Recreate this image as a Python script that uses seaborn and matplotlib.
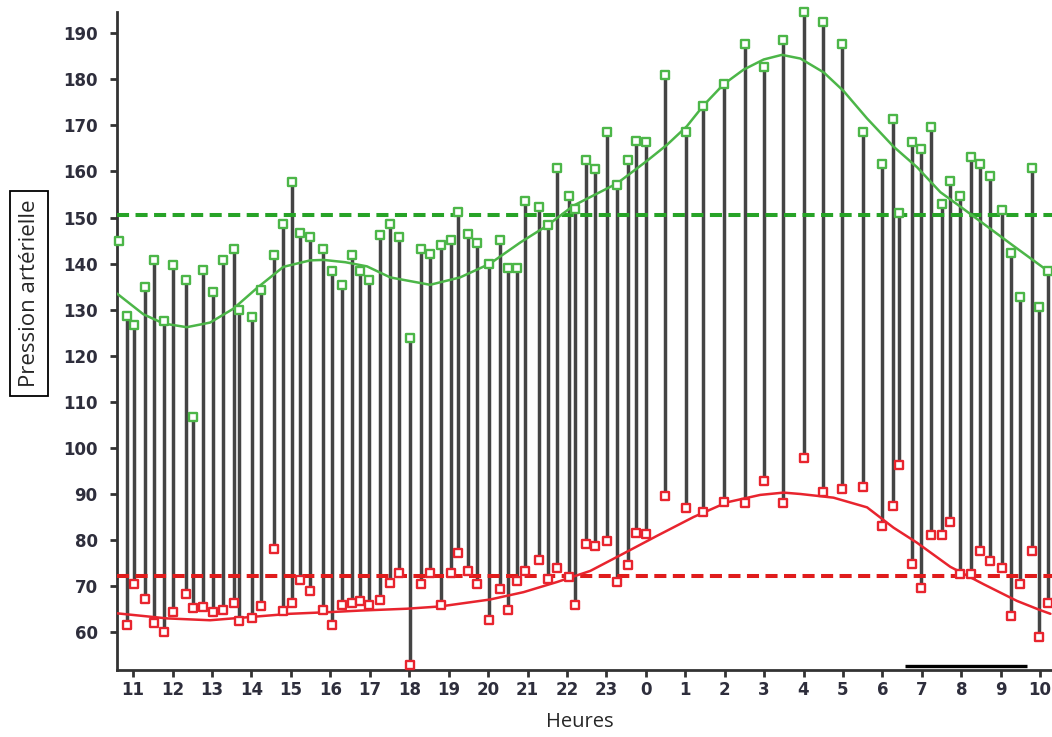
import numpy as np
import pandas as pd
import seaborn as sns
import matplotlib
matplotlib.use("Agg")
import matplotlib.pyplot as plt

# Ambulatory blood pressure record, x = hours elapsed since 11:00
hours = [-0.37, -0.15, 0.01, 0.29, 0.53, 0.77, 1.02, 1.34, 1.53, 1.77,
         2.02, 2.29, 2.56, 2.69, 3.01, 3.24, 3.56, 3.80, 4.03, 4.24,
         4.49, 4.81, 5.04, 5.29, 5.54, 5.74, 5.99, 6.26, 6.52, 6.75,
         7.01, 7.30, 7.53, 7.80, 8.06, 8.25, 8.50, 8.72, 9.03, 9.29,
         9.50, 9.73, 9.94, 10.28, 10.51, 10.76, 11.04, 11.21, 11.49, 11.72,
         12.01, 12.27, 12.54, 12.75, 13.01, 13.49, 14.03, 14.45, 14.97, 15.52,
         15.99, 16.49, 17.00, 17.49, 17.97, 18.51, 18.99, 19.28, 19.43, 19.75,
         19.98, 20.23, 20.51, 20.72, 20.96, 21.25, 21.48, 21.74, 22.03, 22.26,
         22.48, 22.79, 22.96, 23.21]
systolic = [145, 128.6, 126.6, 134.9, 140.8, 127.6, 139.6, 136.4, 106.8, 138.6,
            133.8, 140.7, 143.1, 129.9, 128.4, 134.3, 141.9, 148.6, 157.8, 146.6,
            145.8, 143.1, 138.5, 135.3, 141.9, 138.4, 136.4, 146.3, 148.7, 145.8,
            123.9, 143.1, 142.1, 144.0, 145.1, 151.2, 146.4, 144.4, 140.0, 145.1,
            139.1, 139.1, 153.5, 152.2, 148.3, 160.7, 154.7, 151.8, 162.5, 160.5,
            168.5, 157.0, 162.5, 166.7, 166.3, 180.9, 168.5, 174.3, 178.9, 187.7,
            182.7, 188.5, 194.7, 192.4, 187.7, 168.5, 161.7, 171.3, 150.9, 166.3,
            164.9, 169.7, 153.0, 158.0, 154.6, 163.1, 161.7, 159.0, 151.6, 142.4,
            132.7, 160.7, 130.6, 138.3]
diastolic = [np.nan, 61.6, 70.5, 67.2, 62.0, 60.1, 64.3, 68.4, 65.2, 65.5,
             64.4, 64.9, 66.4, 62.5, 63.0, 65.7, 78.0, 64.6, 66.4, 71.3,
             69.0, 64.9, 61.6, 66.0, 66.4, 66.7, 66.0, 67.0, 70.7, 72.8,
             52.8, 70.4, 72.8, 65.8, 72.8, 77.1, 73.3, 70.4, 62.6, 69.3,
             64.8, 71.2, 73.2, 75.7, 71.6, 73.9, 71.9, 66.0, 79.2, 78.7,
             79.8, 70.9, 74.6, 81.5, 81.3, 89.6, 87.0, 86.1, 88.2, 88.0,
             92.8, 88.0, 97.8, 90.5, 91.1, 91.6, 83.0, 87.4, 96.3, 74.9,
             69.7, 81.2, 81.2, 83.9, 72.7, 72.7, 77.6, 75.5, 73.9, 63.5,
             70.4, 77.6, 59.0, 66.4]

# fitted rhythm curves
sys_fit_hours = [-0.41, 0.26, 0.77, 1.36, 1.95, 2.54, 3.14, 3.81, 4.49, 4.83,
                 5.38, 5.93, 6.52, 7.53, 8.29, 9.05, 9.82, 10.49, 11.17, 12.27,
                 13.03, 13.54, 14.04, 14.46, 14.97, 15.48, 15.99, 16.45, 16.92, 17.51,
                 18.01, 18.61, 19.28, 19.88, 20.47, 20.97, 21.65, 22.33, 23.26]
sys_fit = [133.5, 129.0, 127.0, 126.2, 127.2, 130.2, 134.7, 139.3, 140.7, 140.8,
           140.3, 139.4, 137.0, 135.4, 137.0, 140.0, 144.6, 148.2, 152.6, 157.4,
           162.3, 165.8, 169.8, 174.3, 178.9, 182.1, 184.3, 185.3, 184.5, 181.5,
           177.5, 171.5, 165.4, 160.9, 155.5, 152.4, 148.1, 143.8, 138.0]
dia_fit_hours = [-0.41, 0.86, 1.95, 2.97, 3.98, 5.07, 5.76, 6.94, 7.79, 9.05,
                 9.90, 10.75, 11.59, 12.44, 13.28, 14.21, 15.06, 15.90, 16.49, 16.92,
                 17.76, 18.61, 19.28, 19.88, 20.72, 21.57, 22.41, 23.00, 23.26]
dia_fit = [64.1, 63.0, 62.6, 63.3, 64.0, 64.4, 64.7, 65.1, 65.6, 67.1,
           68.7, 70.9, 73.3, 77.1, 80.9, 85.0, 88.2, 89.8, 90.3, 90.0,
           89.2, 87.1, 82.7, 79.4, 74.2, 70.4, 66.8, 64.8, 64.0]

sys_mean = 150.6
dia_mean = 72.2
sleep_span = [19.58, 22.67]

tick_pos = list(range(24))
tick_labels = ['11', '12', '13', '14', '15', '16', '17', '18', '19', '20', '21', '22',
               '23', '0', '1', '2', '3', '4', '5', '6', '7', '8', '9', '10']
y_ticks = [60, 70, 80, 90, 100, 110, 120, 130, 140, 150, 160, 170, 180, 190]

df = pd.DataFrame({'Heure': hours, 'PAS': systolic, 'PAD': diastolic})

sns.set_style('ticks')
plt.rcParams['font.family'] = ['DejaVu Sans']

green = '#4cb648'
red = '#e8242e'

fig = plt.figure(figsize=(10.52, 7.37), dpi=100)
ax = fig.add_axes([0.1112, 0.0909, 0.8888, 0.8928])

# stems between diastolic and systolic readings
stems = df.dropna()
ax.vlines(stems['Heure'], stems['PAD'], stems['PAS'], color='#444444', lw=2.5, zorder=2)

ax.axhline(sys_mean, color='#27a327', lw=2.9, ls=(0, (3.0, 1.6)), zorder=3)
ax.axhline(dia_mean, color='#e01c1c', lw=2.9, ls=(0, (3.0, 1.6)), zorder=3)

sns.lineplot(x=sys_fit_hours, y=sys_fit, color=green, lw=1.8, ax=ax, zorder=4,
             estimator=None, sort=False)
sns.lineplot(x=dia_fit_hours, y=dia_fit, color=red, lw=1.8, ax=ax, zorder=4,
             estimator=None, sort=False)

sns.scatterplot(data=df, x='Heure', y='PAS', marker='s', s=38, facecolor='white',
                edgecolor=green, linewidth=1.7, ax=ax, zorder=5, clip_on=False)
sns.scatterplot(data=df.dropna(), x='Heure', y='PAD', marker='s', s=38, facecolor='white',
                edgecolor=red, linewidth=1.7, ax=ax, zorder=5, clip_on=False)

ax.plot(sleep_span, [52.6, 52.6], color='black', lw=2.4, solid_capstyle='butt', zorder=6)

ax.set_xlim(-0.41, 23.3)
ax.set_ylim(51.8, 194.6)
ax.set_xticks(tick_pos)
ax.set_xticklabels(tick_labels)
ax.set_yticks(y_ticks)
ax.set_yticklabels([str(v) for v in y_ticks])
ax.tick_params(axis='both', colors='#333333', labelcolor='#2e2e3c', labelsize=12,
               width=2, length=5)
ax.tick_params(axis='y', pad=9)
ax.tick_params(axis='x', pad=3)
for lab in ax.get_xticklabels() + ax.get_yticklabels():
    lab.set_fontweight('bold')

for side in ['top', 'right']:
    ax.spines[side].set_visible(False)
for side in ['left', 'bottom']:
    ax.spines[side].set_linewidth(2)
    ax.spines[side].set_color('#333333')

ax.set_xlabel('')
ax.set_ylabel('')
fig.text(0.551, 0.02, 'Heures', fontsize=14.5, family='Open Sans', ha='center', va='center')
fig.text(0.0276, 0.602, 'Pression artérielle', fontsize=16, family='Open Sans',
         rotation=90, ha='center', va='center',
         bbox=dict(boxstyle='square,pad=0.4', facecolor='white', edgecolor='black', lw=1.3))

fig.savefig('out.png', dpi=100)
